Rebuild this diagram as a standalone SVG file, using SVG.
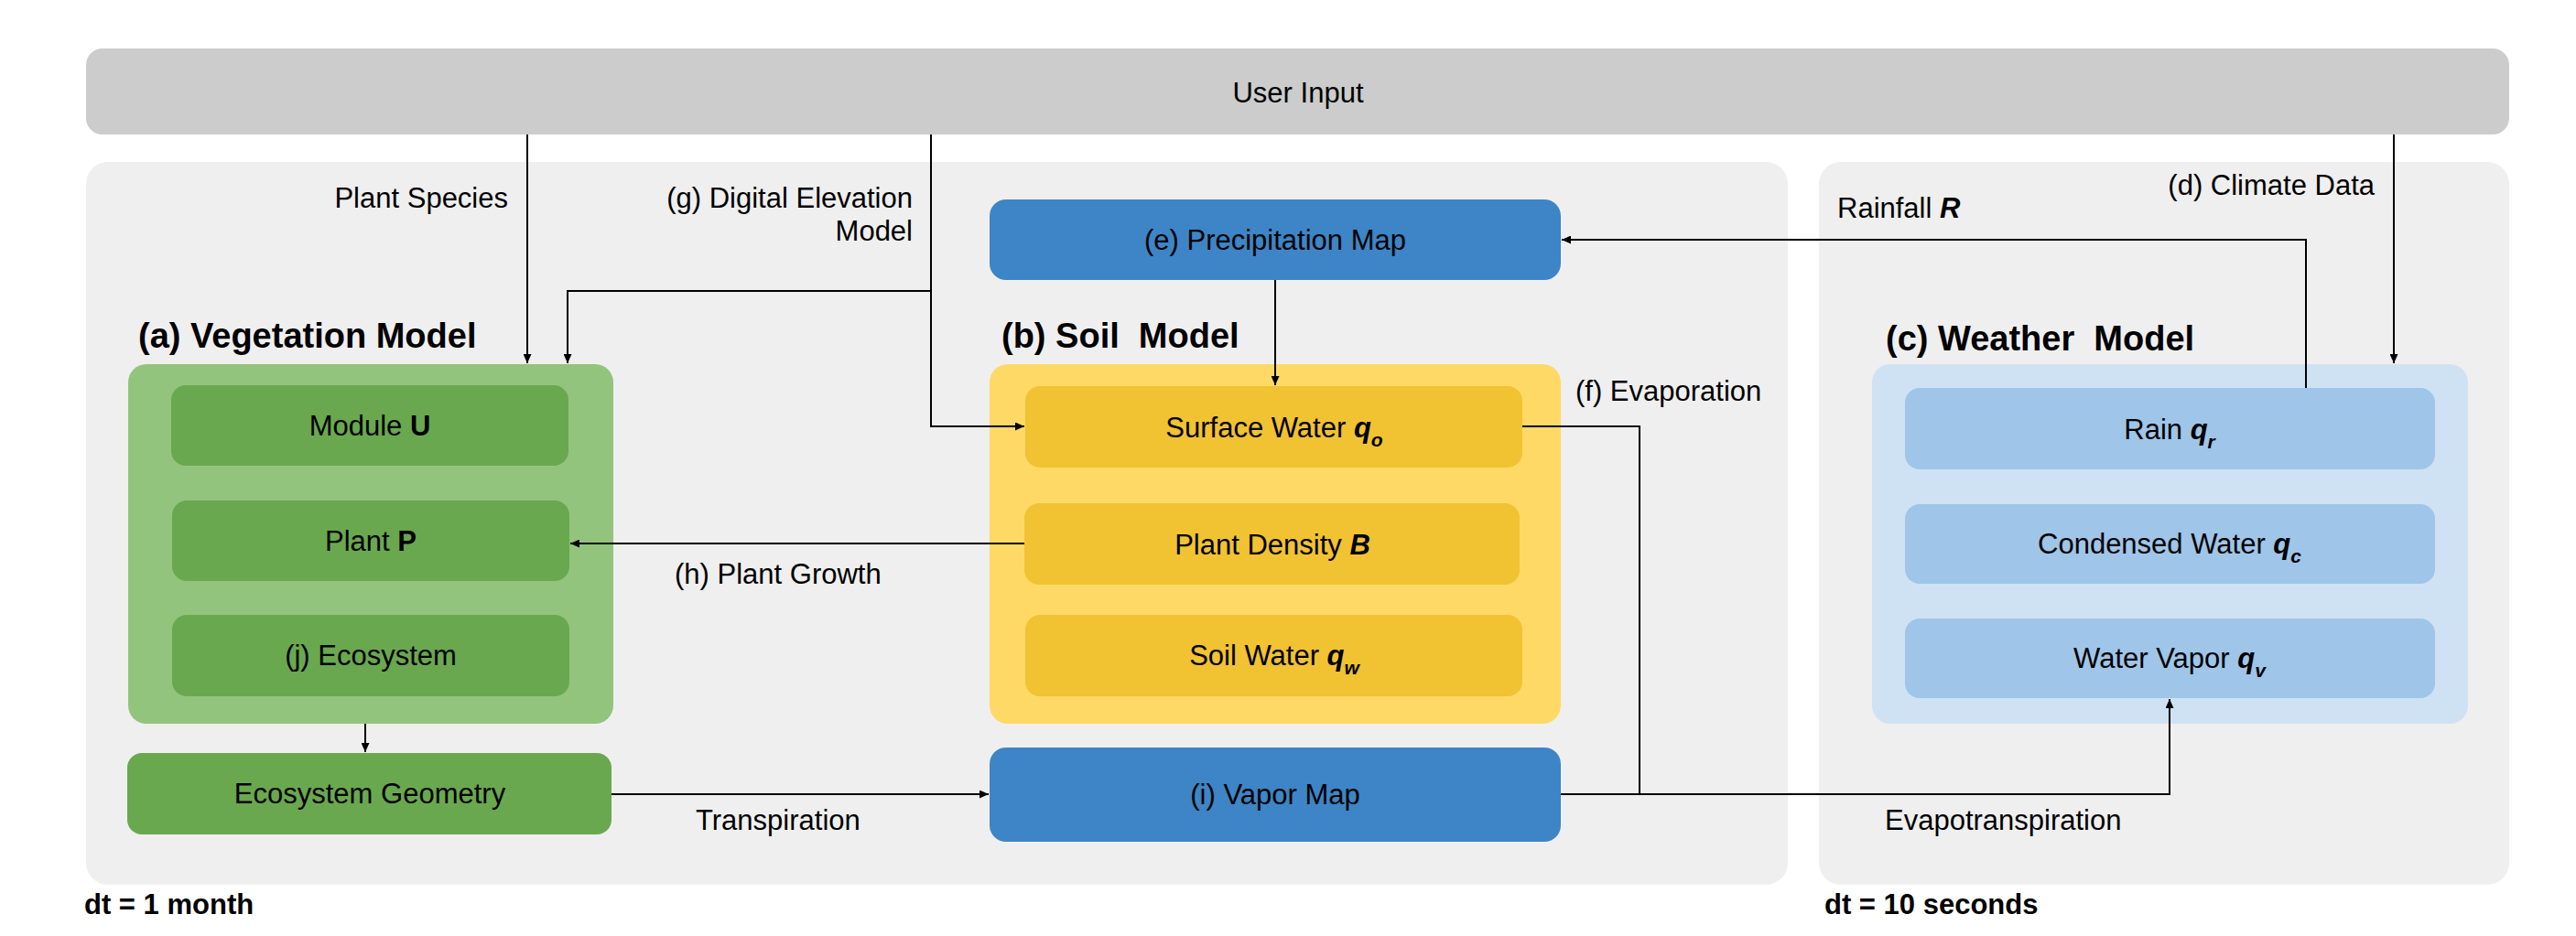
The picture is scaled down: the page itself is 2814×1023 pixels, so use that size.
<svg xmlns="http://www.w3.org/2000/svg" width="2814" height="1023" viewBox="0 0 2814 1023">
<style>
text{font-family:"Liberation Sans",Arial,sans-serif;font-size:31px;fill:#000}
.c{text-anchor:middle}
.e{text-anchor:end}
.t{font-weight:bold;font-size:38px}
.dt{font-weight:bold;font-size:31px}
.bi{font-weight:bold;font-style:italic}
.b{font-weight:bold}
.sub{font-weight:bold;font-style:italic;font-size:21px}
.conn path{fill:none;stroke:#000;stroke-width:2}
.panel{fill:#efefef}
</style>
<defs>
<marker id="ah" markerUnits="userSpaceOnUse" markerWidth="10" markerHeight="9" refX="10" refY="4.5" orient="auto">
<path d="M0,0 L10,4.5 L0,9 z" fill="#000"/>
</marker>
</defs>
<rect width="2814" height="1023" fill="#fff"/>
<g id="panel-left"><rect class="panel" x="94" y="177" width="1859" height="790" rx="24"/></g>
<g id="panel-right"><rect class="panel" x="1987" y="177" width="754" height="790" rx="24"/></g>
<g id="user-input"><rect x="94" y="53" width="2647" height="94" rx="18" fill="#cccccc"/><text class="c" x="1418" y="112">User Input</text></g>
<g id="vegetation-model">
<text class="t" x="151" y="380">(a) Vegetation Model</text>
<rect x="140" y="398" width="530" height="393" rx="20" fill="#93c47d"/>
</g>
<g id="module-u"><rect x="187" y="421" width="434" height="88" rx="16" fill="#6aa84f"/><text class="c" x="404" y="476">Module <tspan class="b">U</tspan></text></g>
<g id="plant-p"><rect x="188" y="547" width="434" height="88" rx="16" fill="#6aa84f"/><text class="c" x="405" y="602">Plant <tspan class="b">P</tspan></text></g>
<g id="ecosystem"><rect x="188" y="672" width="434" height="89" rx="16" fill="#6aa84f"/><text class="c" x="405" y="727">(j) Ecosystem</text></g>
<g id="ecosystem-geometry"><rect x="139" y="823" width="529" height="89" rx="16" fill="#6aa84f"/><text class="c" x="404" y="878">Ecosystem Geometry</text></g>
<g id="precipitation-map"><rect x="1081" y="218" width="624" height="88" rx="18" fill="#3d85c6"/><text class="c" x="1393" y="273">(e) Precipitation Map</text></g>
<g id="soil-model">
<text class="t" x="1094" y="380" xml:space="preserve">(b) Soil  Model</text>
<rect x="1081" y="398" width="624" height="393" rx="20" fill="#ffd966"/>
</g>
<g id="surface-water"><rect x="1120" y="422" width="543" height="89" rx="16" fill="#f1c232"/><text class="c" x="1392" y="478">Surface Water <tspan class="bi">q</tspan><tspan class="sub" dy="10">o</tspan></text></g>
<g id="plant-density"><rect x="1119" y="550" width="541" height="89" rx="16" fill="#f1c232"/><text class="c" x="1390" y="606">Plant Density <tspan class="bi">B</tspan></text></g>
<g id="soil-water"><rect x="1120" y="672" width="543" height="89" rx="16" fill="#f1c232"/><text class="c" x="1392" y="727">Soil Water <tspan class="bi">q</tspan><tspan class="sub" dy="10">w</tspan></text></g>
<g id="vapor-map"><rect x="1081" y="817" width="624" height="103" rx="18" fill="#3d85c6"/><text class="c" x="1393" y="879">(i) Vapor Map</text></g>
<g id="weather-model">
<text class="t" x="2060" y="383" xml:space="preserve">(c) Weather  Model</text>
<rect x="2045" y="398" width="651" height="393" rx="20" fill="#cfe2f3"/>
</g>
<g id="rain"><rect x="2081" y="424" width="579" height="89" rx="16" fill="#9fc5e8"/><text class="c" x="2370" y="480">Rain <tspan class="bi">q</tspan><tspan class="sub" dy="10">r</tspan></text></g>
<g id="condensed-water"><rect x="2081" y="551" width="579" height="87" rx="16" fill="#9fc5e8"/><text class="c" x="2370" y="605">Condensed Water <tspan class="bi">q</tspan><tspan class="sub" dy="10">c</tspan></text></g>
<g id="water-vapor"><rect x="2081" y="676" width="579" height="87" rx="16" fill="#9fc5e8"/><text class="c" x="2370" y="730">Water Vapor <tspan class="bi">q</tspan><tspan class="sub" dy="10">v</tspan></text></g>
<g class="conn" id="connectors">
<path d="M576 147 V397" marker-end="url(#ah)"/>
<path d="M1017 147 V466 H1119" marker-end="url(#ah)"/>
<path d="M1017 318 H620 V397" marker-end="url(#ah)"/>
<path d="M2615 147 V397" marker-end="url(#ah)"/>
<path d="M2519 424 V262 H1706" marker-end="url(#ah)"/>
<path d="M1393 306 V421" marker-end="url(#ah)"/>
<path d="M1119 594 H623" marker-end="url(#ah)"/>
<path d="M399 791 V822" marker-end="url(#ah)"/>
<path d="M668 868 H1080" marker-end="url(#ah)"/>
<path d="M1663 466 H1791 V868"/>
<path d="M1705 868 H2370 V764" marker-end="url(#ah)"/>
</g>
<g id="labels">
<text class="e" x="555" y="227">Plant Species</text>
<text class="e" x="997" y="227">(g) Digital Elevation</text>
<text class="e" x="997" y="263">Model</text>
<text class="e" x="2594" y="213">(d) Climate Data</text>
<text x="2007" y="238">Rainfall <tspan class="bi">R</tspan></text>
<text x="1721" y="438">(f) Evaporation</text>
<text x="737" y="638">(h) Plant Growth</text>
<text x="760" y="907">Transpiration</text>
<text x="2059" y="907">Evapotranspiration</text>
<text class="dt" x="92" y="999">dt = 1 month</text>
<text class="dt" x="1993" y="999">dt = 10 seconds</text>
</g>
</svg>
